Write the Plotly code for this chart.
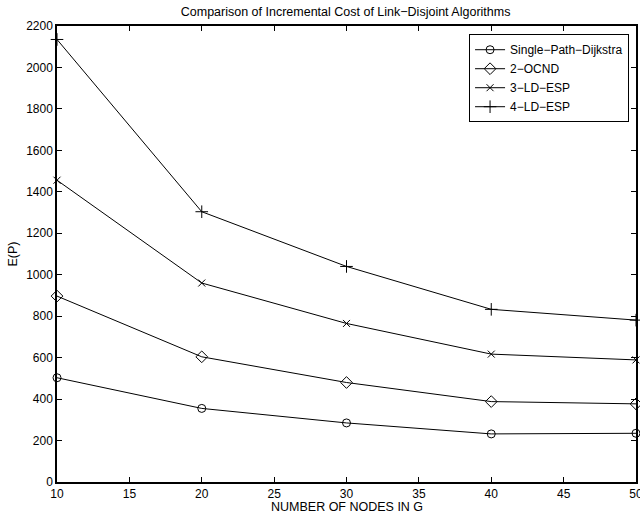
import plotly.graph_objects as go

# Number of nodes in the graph
nodes = [10, 20, 30, 40, 50]

# Incremental cost E(P) for each algorithm
single_path_dijkstra = [503, 355, 285, 232, 235]
ocnd_2 = [897, 604, 480, 388, 377]
ld_esp_3 = [1456, 960, 765, 617, 589]
ld_esp_4 = [2135, 1304, 1040, 833, 781]

series = [
    ("Single\u2212Path\u2212Dijkstra", single_path_dijkstra, "circle-open", 8),
    ("2\u2212OCND", ocnd_2, "diamond-open", 9),
    ("3\u2212LD\u2212ESP", ld_esp_3, "x-thin-open", 7),
    ("4\u2212LD\u2212ESP", ld_esp_4, "cross-thin-open", 9),
]

FONT = "Liberation Sans, Arial, Helvetica, sans-serif"
FS = 12.5

fig = go.Figure()
for name, values, symbol, size in series:
    fig.add_trace(go.Scatter(
        x=nodes, y=values, name=name, mode="lines+markers",
        line=dict(color="black", width=1),
        marker=dict(symbol=symbol, size=size, color="black",
                    line=dict(color="black", width=1)),
        cliponaxis=False,
    ))

axis_common = dict(
    showline=True, linecolor="black", linewidth=1.5, mirror="ticks",
    ticks="inside", ticklen=5, tickcolor="black", tickwidth=1,
    showgrid=False, zeroline=False, automargin=False,
    ticklabeloverflow="allow",
    tickfont=dict(family=FONT, size=12, color="black"),
)

fig.update_layout(
    width=640, height=514,
    margin=dict(l=57, r=4, t=26, b=32),
    paper_bgcolor="white", plot_bgcolor="white",
    font=dict(family=FONT, size=FS, color="black"),
    title=dict(text="Comparison of Incremental Cost of Link\u2212Disjoint Algorithms",
               x=0.54, xanchor="center", y=0.977, yanchor="middle",
               font=dict(family=FONT, size=FS, color="black")),
    xaxis=dict(range=[10, 50], tickmode="array", tickvals=list(range(10, 51, 5)),
               **axis_common),
    yaxis=dict(range=[0, 2200], tickmode="array", tickvals=list(range(0, 2201, 200)),
               title=dict(text="E(P)", standoff=6, font=dict(family=FONT, size=FS)),
               **axis_common),
    legend=dict(x=0.988, y=0.982, xanchor="right", yanchor="top",
                bgcolor="white", bordercolor="black", borderwidth=1,
                font=dict(family=FONT, size=12, color="black"),
                itemwidth=30, tracegroupgap=0),
    showlegend=True,
)

# x-axis title placed below the tick labels
fig.add_annotation(text="NUMBER OF NODES IN G", xref="paper", yref="paper",
                   x=0.5, y=0, yshift=-17, xanchor="center", yanchor="top",
                   borderpad=0, showarrow=False,
                   font=dict(family=FONT, size=FS, color="black"))

fig.write_html("out.html")
